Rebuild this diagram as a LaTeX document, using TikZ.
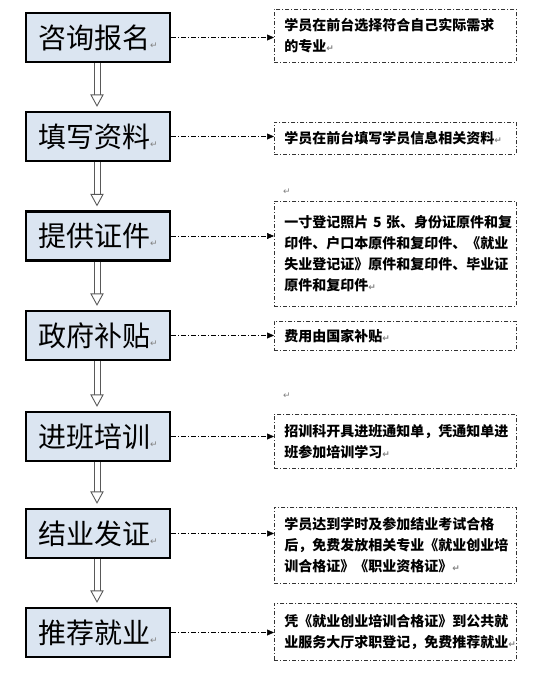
\documentclass[tikz,border=0pt]{standalone}
\usepackage{fontspec}
\newfontfamily\cjk{Noto Sans CJK SC}
\newfontfamily\dv{DejaVu Sans}
\usetikzlibrary{arrows.meta,calc}
\definecolor{boxblue}{HTML}{DBE5F1}
\newcommand\retmark{{\dv\color{gray}\fontsize{9}{9}\selectfont ↵}}
\tikzset{
  stepbox/.style={draw=black, line width=2.2pt, fill=boxblue, minimum width=144pt,
    minimum height=49pt, inner sep=0pt, font=\cjk\fontsize{28}{28}\selectfont},
  notebox/.style={draw=black!80, line width=0.7pt, dash pattern=on 4pt off 2pt on 1pt off 2pt,
    anchor=north west, minimum width=242pt, text width=222pt, inner xsep=10pt, inner ysep=0pt,
    align=left, font=\cjk\bfseries\fontsize{14}{21}\selectfont},
  link/.style={draw=black, line width=0.6pt, dash pattern=on 5pt off 2pt on 1pt off 2pt,
    -{Triangle[length=7pt,width=6pt]}},
  shaft/.style={draw=gray!70!black, line width=0.9pt},
  head/.style={draw=gray!70!black, line width=0.9pt, fill=white, line join=miter},
  stray/.style={inner sep=0pt}
}
\begin{document}
\begin{tikzpicture}[x=1pt,y=-1pt]
\useasboundingbox (0,0) rectangle (552,678);
% left step boxes
\node[stepbox] (b1) at (98,37.5)  {咨询报名\retmark};
\node[stepbox] (b2) at (98,136.5) {填写资料\retmark};
\node[stepbox] (b3) at (98,236)   {提供证件\retmark};
\node[stepbox] (b4) at (98,335.5) {政府补贴\retmark};
\node[stepbox] (b5) at (98,436.5) {进班培训\retmark};
\node[stepbox] (b6) at (98,533.5) {结业发证\retmark};
\node[stepbox] (b7) at (98,632.5) {推荐就业\retmark};
% right note boxes
\node[notebox, minimum height=53pt]  (r1) at (274,9)   {学员在前台选择符合自己实际需求\\的专业\retmark};
\node[notebox, minimum height=32pt]  (r2) at (274,122) {学员在前台填写学员信息相关资料\retmark};
\node[notebox, minimum height=105pt] (r3) at (274,201) {一寸登记照片~5~张、身份证原件和复\\印件、户口本原件和复印件、《就业\\失业登记证》原件和复印件、毕业证\\原件和复印件\retmark};
\node[notebox, minimum height=29pt]  (r4) at (274,321) {费用由国家补贴\retmark};
\node[notebox, minimum height=54pt]  (r5) at (274,414) {招训科开具进班通知单，凭通知单进\\班参加培训学习\retmark};
\node[notebox, minimum height=76pt]  (r6) at (274,507) {学员达到学时及参加结业考试合格\\后，免费发放相关专业《就业创业培\\训合格证》《职业资格证》\retmark};
\node[notebox, minimum height=57pt]  (r7) at (274,603) {凭《就业创业培训合格证》到公共就\\业服务大厅求职登记，免费推荐就业\retmark};
% stray paragraph marks
\node[stray] (m1) at (287,192) {\retmark};
\node[stray] (m2) at (287,396) {\retmark};
% connectors
\foreach \i in {1,...,7} {
  \draw[link] (b\i.east) -- (b\i.east -| r\i.west);
}
% hollow double arrows
\foreach \i [evaluate=\i as \j using int(\i+1)] in {1,...,6} {
  \coordinate (tip\i) at ($(b\j.north)+(-1,-5)$);
  \coordinate (base\i) at ($(tip\i)+(0,-11)$);
  \draw[shaft] ($(b\i.south)+(-4,0)$) -- ($(base\i)+(-3,0)$);
  \draw[shaft] ($(b\i.south)+(2,0)$) -- ($(base\i)+(3,0)$);
  \draw[head] ($(base\i)+(-6,0)$) -- ($(base\i)+(6,0)$) -- (tip\i) -- cycle;
}
\end{tikzpicture}
\end{document}
